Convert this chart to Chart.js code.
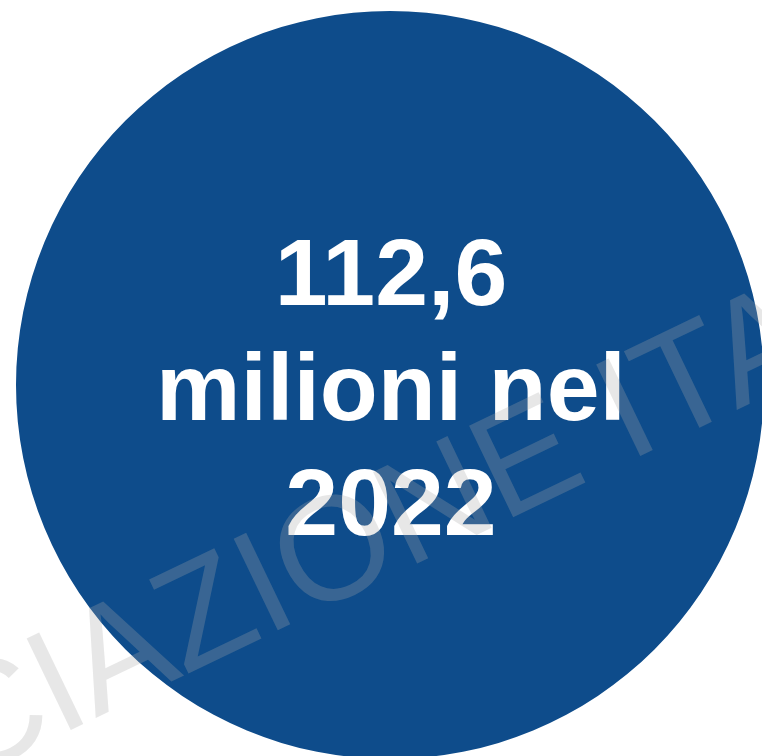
<!DOCTYPE html>
<html>
<head>
<meta charset="utf-8">
<script src="https://cdn.jsdelivr.net/npm/chart.js@4"></script>
<style>
  html, body { margin: 0; padding: 0; background: #ffffff; overflow: hidden; }
  #wrap { position: absolute; left: 0; top: 0; width: 762px; height: 756px; overflow: hidden; }
</style>
</head>
<body>
<div id="wrap"><canvas id="myCanvas" width="780" height="770"></canvas></div>
<script>
'use strict'

// data
var categories = ["2022"]
var values = [112.6]
var unitLabel = "milioni nel"
var watermarkText = "ASSOCIAZIONE ITALIANA"

var circleColor = "#0e4c8b"
var canvas = document.getElementById("myCanvas")
var ctx = canvas.getContext("2d")

function formatValue(v){
    return v.toFixed(1).replace(".", ",")
}

var overlayPlugin = {
    id: "overlay",
    afterDraw: function(chart){
        var c = chart.ctx
        var arc = chart.getDatasetMeta(0).data[0]
        var cx = arc.x
        var cy = arc.y
        var lines = [formatValue(values[0]), unitLabel, categories[0]]
        var offsets = [-80, 35, 150]

        c.save()
        c.fillStyle = "#ffffff"
        c.textAlign = "center"
        c.textBaseline = "alphabetic"
        c.font = "bold 95px 'Liberation Sans', Arial, sans-serif"
        for(let i = 0; i < lines.length; i++){
            c.fillText(lines[i], cx + 1, cy + offsets[i])
        }
        c.restore()

        // watermark on top of everything
        c.save()
        c.translate(77, 727)
        c.rotate(-Math.atan2(274, 570))
        c.font = "150px 'Liberation Sans', Arial, sans-serif"
        var size = 150 * 632 / c.measureText("IAZIONE ").width
        c.font = size + "px 'Liberation Sans', Arial, sans-serif"
        var start = c.measureText("ASSOC").width + c.measureText("I").width / 2
        c.fillStyle = "rgba(170,170,170,0.28)"
        c.textAlign = "left"
        c.fillText(watermarkText, -start, 0)
        c.restore()
    }
}

new Chart(ctx, {
    type: 'pie',
    data: {
        labels: categories,
        datasets: [{
            data: values,
            backgroundColor: circleColor,
            borderWidth: 0,
            hoverOffset: 0
        }]
    },
    options: {
        responsive: false,
        animation: false,
        layout: { padding: 11 },
        plugins: {
            legend: { display: false },
            tooltip: { enabled: false }
        }
    },
    plugins: [overlayPlugin]
})
</script>
</body>
</html>
